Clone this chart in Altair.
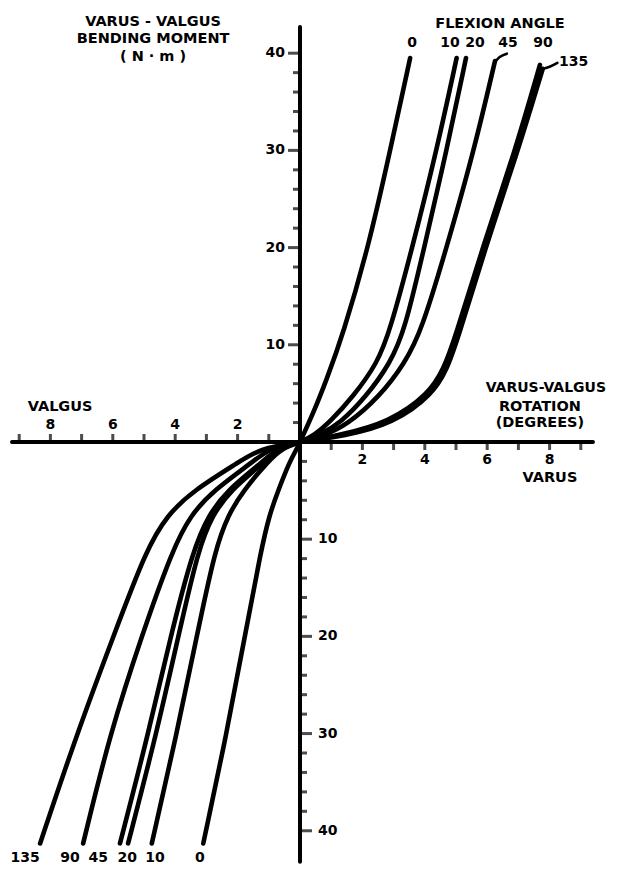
import altair as alt
import pandas as pd

# ---------------- data ----------------
ANGLES = ["0", "10", "20", "45", "90", "135"]

# Varus side (positive rotation in degrees, positive moment in N-m)
var0_x = [0, 0.43, 0.85, 1.37, 2.19, 2.89, 3.53]
var0_y = [0, 3.0, 6.4, 11.0, 20, 30, 39.5]
var10_x = [0, 0.46, 0.97, 1.71, 2.48, 2.89, 3.60, 4.38, 5.02]
var10_y = [0, 0.7, 2.1, 4.7, 8.1, 11.5, 20, 30, 39.5]
var20_x = [0, 0.61, 1.28, 2.13, 2.89, 3.36, 3.98, 4.70, 5.32]
var20_y = [0, 0.7, 1.9, 4.7, 8.1, 11.5, 20, 30, 39.5]
var45_x = [0, 0.71, 1.49, 2.56, 3.36, 3.90, 4.70, 5.58, 6.25]
var45_y = [0, 0.6, 1.7, 4.7, 8.1, 11.5, 20, 30, 39.2]
var90_x = [0, 1.28, 2.85, 4.15, 4.60, 4.95, 5.85, 6.90, 7.69]
var90_y = [0, 0.7, 2.0, 5.0, 7.5, 10.5, 20, 30, 38.8]
var135_x = [0, 1.42, 3.00, 4.25, 4.70, 5.05, 5.94, 6.99, 7.78]
var135_y = [0, 0.6, 1.9, 4.9, 7.4, 10.5, 20, 30, 38.4]

# Valgus side (negative rotation, negative moment)
val_y = [0, -0.7, -2, -5, -7.5, -11, -20, -30, -41.3]
val0_x = [0, -0.10, -0.33, -0.70, -0.98, -1.24, -1.77, -2.35, -3.10]
val10_x = [0, -0.60, -1.02, -1.82, -2.30, -2.72, -3.31, -3.95, -4.75]
val20_x = [0, -0.70, -1.12, -2.24, -2.80, -3.26, -3.90, -4.60, -5.51]
val45_x = [0, -0.75, -1.18, -2.35, -2.92, -3.42, -4.15, -4.86, -5.77]
val90_x = [0, -1.00, -1.49, -2.78, -3.50, -4.08, -5.08, -6.09, -6.95]
val135_x = [0, -1.30, -1.92, -3.42, -4.25, -4.92, -5.98, -7.15, -8.33]

# axis tick values and labels
x_ticks_left = [-9, -8, -7, -6, -5, -4, -3, -2, -1]
x_ticks_right = [1, 2, 3, 4, 5, 6, 7, 8, 9]
x_labels_left = [-8, -6, -4, -2]
x_labels_right = [2, 4, 6, 8]
y_ticks_top = [2, 4, 6, 8, 12, 14, 16, 18, 22, 24, 26, 28, 32, 34, 36, 38]
y_major_top = [10, 20, 30, 40]
y_ticks_bottom = [-2, -4, -6, -8, -12, -14, -16, -18, -22, -24, -26, -28, -32, -34, -36, -38]
y_major_bottom = [-10, -20, -30, -40]

# ---------------- build tables ----------------
rows = []
varus = {"0": (var0_x, var0_y), "10": (var10_x, var10_y), "20": (var20_x, var20_y),
         "45": (var45_x, var45_y), "90": (var90_x, var90_y), "135": (var135_x, var135_y)}
valgus = {"0": val0_x, "10": val10_x, "20": val20_x, "45": val45_x, "90": val90_x, "135": val135_x}
for a in ANGLES:
    xs, ys = varus[a]
    for xv, yv in zip(xs, ys):
        rows.append({"x": xv, "y": yv, "key": "varus-" + a})
    for xv, yv in zip(valgus[a], val_y):
        rows.append({"x": xv, "y": yv, "key": "valgus-" + a})
curves = pd.DataFrame(rows)

W, H = 602, 856
X_DOM = [-9.359, 9.936]
Y_DOM = [-43.42, 44.65]
FONT = "DejaVu Sans"

X = alt.X("x:Q", scale=alt.Scale(domain=X_DOM, nice=False, zero=False), axis=None)
Y = alt.Y("y:Q", scale=alt.Scale(domain=Y_DOM, nice=False, zero=False), axis=None)

lines = alt.Chart(curves).mark_line(
    color="black", strokeWidth=4.6, interpolate="basis", strokeCap="round", strokeJoin="round"
).encode(x=X, y=Y, detail="key:N")

# leader lines for 45 and 135 labels
leaders = pd.DataFrame({
    "x": [6.25, 6.40, 6.63, 7.78, 8.00, 8.25],
    "y": [39.1, 39.6, 39.95, 38.4, 38.6, 39.0],
    "key": ["45", "45", "45", "135", "135", "135"],
})
leader_lines = alt.Chart(leaders).mark_line(
    color="black", strokeWidth=2.6, interpolate="monotone", strokeCap="round"
).encode(x=X, y=Y, detail="key:N")

# axes lines
xaxis = alt.Chart(pd.DataFrame({"x": [-9.23], "x2": [9.39], "y": [0]})).mark_rule(
    color="black", strokeWidth=4, strokeCap="round"
).encode(x=X, x2="x2:Q", y=Y)
yaxis = alt.Chart(pd.DataFrame({"x": [0], "y": [42.7], "y2": [-43.2]})).mark_rule(
    color="black", strokeWidth=4, strokeCap="round"
).encode(x=X, y=Y, y2="y2:Q")

# ticks
def tick_layer(xs, ys, orient, size, xo=0, yo=0):
    df = pd.DataFrame({"x": xs, "y": ys})
    props = dict(color="black", orient=orient, size=size, thickness=3)
    if xo:
        props["xOffset"] = xo
    if yo:
        props["yOffset"] = yo
    return alt.Chart(df).mark_tick(**props).encode(x=X, y=Y)

t1 = tick_layer(x_ticks_left, [0] * len(x_ticks_left), "vertical", 8, yo=-4)
t2 = tick_layer(x_ticks_right, [0] * len(x_ticks_right), "vertical", 8, yo=4)
t3 = tick_layer([0] * len(y_ticks_top), y_ticks_top, "horizontal", 7, xo=-3.5)
t4 = tick_layer([0] * len(y_major_top), y_major_top, "horizontal", 12, xo=-6)
t5 = tick_layer([0] * len(y_ticks_bottom), y_ticks_bottom, "horizontal", 7, xo=3.5)
t6 = tick_layer([0] * len(y_major_bottom), y_major_bottom, "horizontal", 12, xo=6)

def text_layer(df, align="center", size=14):
    return alt.Chart(df).mark_text(
        font=FONT, fontWeight="bold", fontSize=size, align=align, baseline="middle", color="black"
    ).encode(x=X, y=Y, text="t:N")

# tick labels
lab_xl = text_layer(pd.DataFrame({"x": x_labels_left, "y": [1.75] * 4,
                                  "t": [str(-v) for v in x_labels_left]}))
lab_xr = text_layer(pd.DataFrame({"x": x_labels_right, "y": [-1.85] * 4,
                                  "t": [str(v) for v in x_labels_right]}))
lab_yt = text_layer(pd.DataFrame({"x": [-0.48] * 4, "y": y_major_top,
                                  "t": [str(v) for v in y_major_top]}), align="right")
lab_yb = text_layer(pd.DataFrame({"x": [0.58] * 4, "y": y_major_bottom,
                                  "t": [str(-v) for v in y_major_bottom]}), align="left")

# curve labels
top_lab = text_layer(pd.DataFrame({
    "x": [3.59, 4.81, 5.61, 6.67, 7.79],
    "y": [41.1] * 5,
    "t": ANGLES[:5],
}))
lab135 = text_layer(pd.DataFrame({"x": [8.30], "y": [39.1], "t": ["135"]}), align="left")
bot_lab = text_layer(pd.DataFrame({
    "x": [-8.81, -7.37, -6.47, -5.54, -4.65, -3.21],
    "y": [-42.8] * 6,
    "t": ["135", "90", "45", "20", "10", "0"],
}))

# titles
titles = text_layer(pd.DataFrame({
    "x": [-4.71, -4.71, -4.71, 6.41, -7.69, 8.01, 7.69, 7.69],
    "y": [43.2, 41.45, 39.6, 43.0, 3.6, -3.7, 3.6, 1.95],
    "t": ["VARUS - VALGUS", "BENDING MOMENT", "( N · m )", "FLEXION ANGLE", "VALGUS",
          "VARUS", "ROTATION", "(DEGREES)"],
}), size=14.5)
title_r = text_layer(pd.DataFrame({"x": [7.88], "y": [5.56], "t": ["VARUS-VALGUS"]}), size=14)

chart = alt.layer(
    xaxis, yaxis, t1, t2, t3, t4, t5, t6, lines, leader_lines,
    lab_xl, lab_xr, lab_yt, lab_yb, top_lab, lab135, bot_lab, titles, title_r
).properties(
    width=W, height=H, padding=0, autosize=alt.AutoSizeParams(type="none"), background="white"
).configure_view(stroke=None)

chart.save("out.html", embed_options={"renderer": "svg", "actions": False})
